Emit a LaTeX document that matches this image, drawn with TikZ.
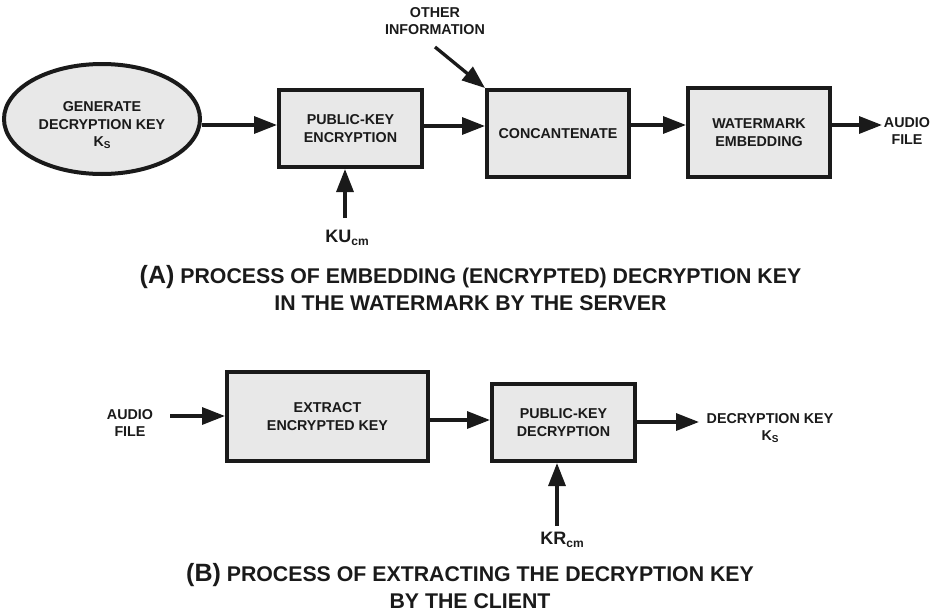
\documentclass[tikz,border=0pt]{standalone}
\usepackage{fontspec}
\setmainfont{Liberation Sans}
\usetikzlibrary{arrows.meta,shapes.geometric}
\definecolor{ink}{HTML}{1A1A1A}
\definecolor{boxfill}{HTML}{E8E8E8}
\newcommand\lowidx[3]{\raisebox{-#2}{\fontsize{#3}{#3}\selectfont #1}}
\begin{document}
\begin{tikzpicture}[x=1pt,y=-1pt,
  every node/.style={text=ink,font=\fontsize{14.3}{17.5}\selectfont\bfseries,align=center,inner sep=2pt},
  procbox/.style={draw=ink,line width=4pt,fill=boxfill,rectangle,inner sep=0pt},
  genoval/.style={draw=ink,line width=4pt,fill=boxfill,ellipse,inner sep=0pt},
  flow/.style={draw=ink,line width=3.3pt,-{Triangle[length=23pt,width=17pt]}},
  caption/.style={font=\fontsize{21.3}{27}\selectfont\bfseries},
  keylabel/.style={font=\fontsize{18}{18}\selectfont\bfseries}]
\useasboundingbox (0,0) rectangle (934,613);

% ---- (A) embedding at the server ----
\node[genoval,minimum width=196,minimum height=110] (gen) at (102,119)
  {\rule{0pt}{23pt}GENERATE\\DECRYPTION KEY\\K\lowidx{S}{2pt}{10}};
\node[procbox,minimum width=143,minimum height=77] (pke) at (350.5,128.5)
  {PUBLIC-KEY\\ENCRYPTION};
\node[procbox,minimum width=142,minimum height=87] (cat) at (558,133.5)
  {CONCANTENATE};
\node[procbox,minimum width=142,minimum height=89] (wm) at (759,132.5)
  {WATERMARK\\EMBEDDING};
\node (audA) at (907,131) {AUDIO\\FILE};
\node (oth) at (435,21) {OTHER\\INFORMATION};
\node[keylabel,anchor=north] (ku) at (347,228) {KU\lowidx{cm}{3pt}{12}};
\coordinate (othtail) at (435,47);

\coordinate (rA) at (0,125);
\coordinate (rA2) at (0,126);
\draw[flow] ([yshift=-6pt]gen.east) -- (pke.west |- rA);
\draw[flow] (pke.east |- rA2) -- (cat.west |- rA2);
\draw[flow] (cat.east |- rA) -- (wm.west |- rA);
\draw[flow] (wm.east |- rA) -- (882,125);
\draw[flow] (othtail) -- (cat.north west);
\draw[flow] (345,218) -- (pke.south -| 345,0);

\node[caption] (capA) at (470.5,288)
  {{\fontsize{25}{27}\selectfont(A)} PROCESS OF EMBEDDING (ENCRYPTED) DECRYPTION KEY\\IN THE WATERMARK BY THE SERVER};

% ---- (B) extraction at the client ----
\node (audB) at (130,423) {AUDIO\\FILE};
\node[procbox,minimum width=201,minimum height=89] (ext) at (327.5,416.5)
  {EXTRACT\\ENCRYPTED KEY};
\node[procbox,minimum width=143,minimum height=77] (pkd) at (563.5,422.5)
  {PUBLIC-KEY\\DECRYPTION};
\node (dk) at (770,428) {DECRYPTION KEY\\K\lowidx{S}{2pt}{10}};
\node[keylabel,anchor=north] (kr) at (562,530) {KR\lowidx{cm}{3pt}{12}};

\coordinate (rB1) at (0,416);
\coordinate (rB2) at (0,420);
\coordinate (rB3) at (0,422);
\coordinate (audBtail) at (170,416);
\coordinate (dkhead) at (699,422);
\coordinate (krtail) at (557,526);
\draw[flow] (audBtail) -- (ext.west |- rB1);
\draw[flow] (ext.east |- rB2) -- (pkd.west |- rB2);
\draw[flow] (pkd.east |- rB3) -- (dkhead);
\draw[flow] (krtail) -- (pkd.south -| krtail);

\node[caption] (capB) at (470,586)
  {{\fontsize{25}{27}\selectfont(B)} PROCESS OF EXTRACTING THE DECRYPTION KEY\\BY THE CLIENT};
\end{tikzpicture}
\end{document}
